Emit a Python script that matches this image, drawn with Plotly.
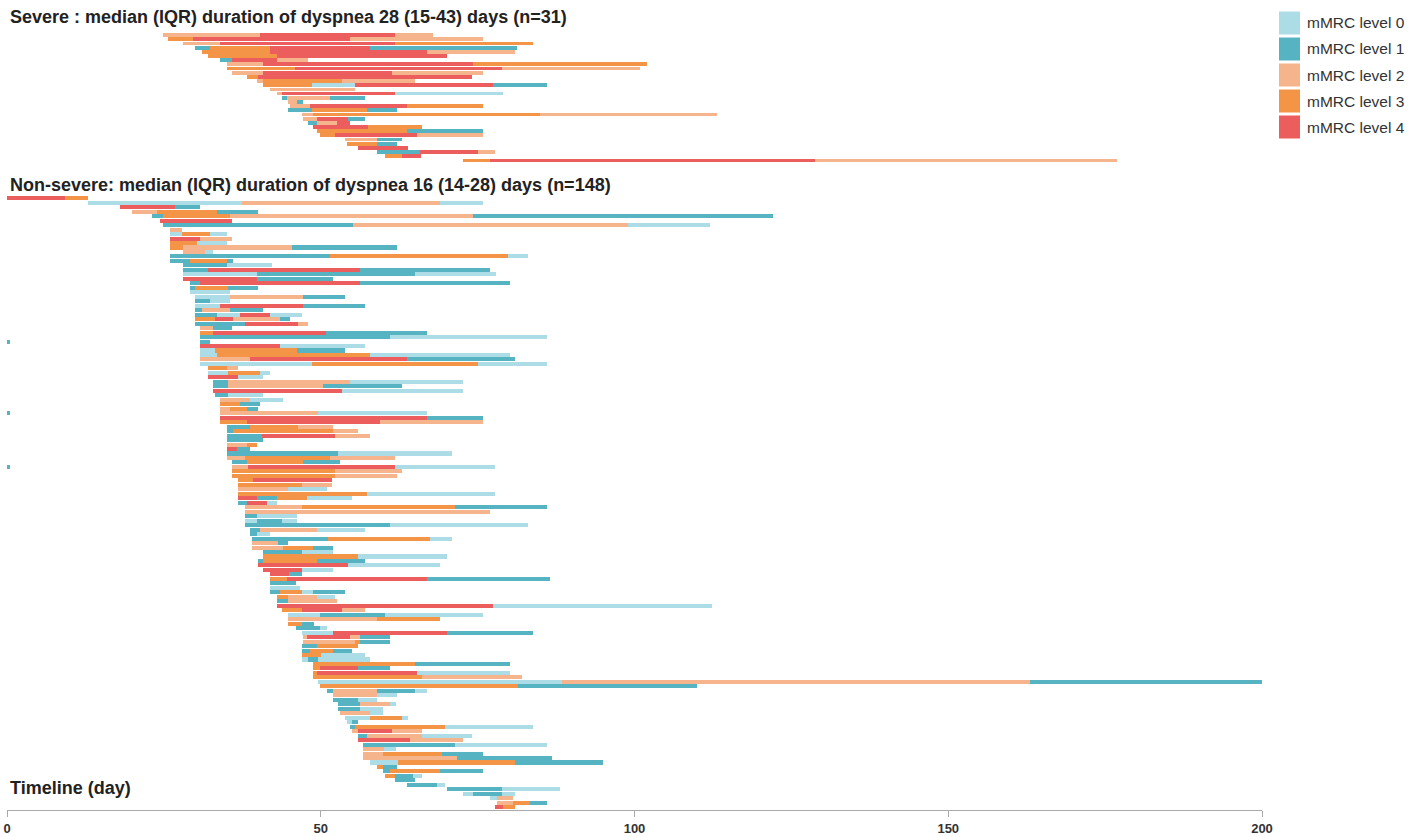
import plotly.graph_objects as go

# ---------------- data ----------------
level_names = ["mMRC level 0", "mMRC level 1", "mMRC level 2", "mMRC level 3", "mMRC level 4"]
level_colors = ["#acdde7", "#56b3c2", "#f5b48c", "#f49447", "#ec5d5e"]

title_severe = "Severe : median (IQR) duration of dyspnea 28 (15-43) days (n=31)"
title_nonsevere = "Non-severe: median (IQR) duration of dyspnea 16 (14-28) days (n=148)"
x_title = "Timeline (day)"
x_ticks = [0, 50, 100, 150, 200]

# each patient: start day, then list of (mMRC level, end day)
severe_start = [24.9, 25.7, 28.0, 30.0, 31.1, 32.0, 33.9, 35.1, 35.1, 35.9,
                38.2, 39.8, 40.8, 41.9, 43.0, 43.8, 44.8, 45.1, 44.8, 47.0,
                47.2, 48.0, 48.8, 49.4, 49.9, 53.9, 54.2, 55.9, 59.0, 60.2, 72.7]
severe_segments = [
    [(2, 40.3), (4, 61.8), (2, 67.9)],
    [(3, 29.6), (4, 54.7), (2, 75.9)],
    [(2, 33.9), (4, 61.8), (3, 83.8)],
    [(1, 32.4), (3, 41.9), (4, 57.8), (1, 81.3)],
    [(3, 41.9), (4, 67.0), (2, 81.0)],
    [(3, 43.0), (4, 70.1)],
    [(1, 35.9), (4, 43.0), (2, 48.0)],
    [(2, 40.8), (4, 74.3), (3, 102.0)],
    [(3, 45.9), (4, 78.9), (2, 100.9)],
    [(2, 40.8), (4, 61.4), (2, 75.9)],
    [(3, 40.0), (4, 74.1)],
    [(2, 40.8), (3, 53.4), (2, 65.0)],
    [(3, 48.6), (0, 55.5), (4, 77.4), (1, 86.1)],
    [(2, 55.5)],
    [(2, 43.8), (4, 61.8), (0, 79.0)],
    [(1, 44.6), (2, 51.5), (1, 57.1)],
    [(2, 46.2), (1, 47.2)],
    [(2, 48.3), (4, 63.7), (3, 75.9)],
    [(1, 48.6), (3, 57.4), (1, 62.2)],
    [(2, 48.8), (3, 84.9), (2, 113.1)],
    [(2, 49.4), (4, 54.3), (1, 57.1)],
    [(1, 49.4), (2, 52.6), (4, 54.7)],
    [(4, 57.5), (3, 66.1)],
    [(3, 63.7), (1, 75.9)],
    [(3, 52.3), (4, 65.3), (2, 75.9)],
    [(2, 59.0), (1, 62.9)],
    [(3, 59.0), (1, 62.2)],
    [(4, 63.9)],
    [(1, 65.8), (4, 75.1), (2, 77.8)],
    [(3, 63.0), (4, 66.0)],
    [(3, 77.0), (4, 128.8), (2, 176.9)],
]

nonsevere_start = [
    0.0, 12.9, 18.0, 19.9, 23.1, 24.4, 24.9, 26.0, 26.0, 26.0,
    26.0, 26.0, 28.0, 26.0, 26.0, 28.0, 28.0, 28.0, 28.0, 29.2,
    29.2, 29.2, 30.0, 30.0, 30.0, 30.0, 30.0, 30.0, 30.0, 30.8,
    30.8, 30.8, 30.8, 30.8, 30.8, 30.8, 30.8, 30.8, 32.0, 32.0,
    32.0, 32.8, 32.8, 32.8, 33.1, 33.9, 33.9, 33.9, 33.9, 33.9,
    33.9, 35.1, 35.1, 35.1, 35.1, 35.1, 35.1, 35.1, 35.1, 35.9,
    35.9, 35.9, 35.9, 36.8, 36.8, 36.8, 36.8, 36.8, 36.8, 37.9,
    37.9, 37.9, 37.9, 37.9, 38.7, 38.7, 39.0, 39.0, 39.0, 40.8,
    40.8, 40.0, 40.0, 40.8, 41.9, 41.9, 41.9, 41.9, 41.9, 43.0,
    43.0, 43.0, 43.8, 44.8, 44.8, 44.8, 46.1, 47.0, 47.2, 47.2,
    47.0, 47.0, 47.0, 47.0, 48.8, 48.8, 48.8, 48.8, 49.6, 49.9,
    51.0, 52.0, 52.0, 52.7, 52.7, 53.1, 53.9, 54.2, 54.7, 55.0,
    55.9, 55.9, 56.7, 56.7, 56.7, 56.7, 57.8, 59.0, 59.9, 60.2,
    61.8, 63.7, 70.1, 72.7, 77.0, 78.1, 77.8]
nonsevere_segments = [
    [(4, 9.2), (3, 12.9)],
    [(0, 37.5), (2, 69.0), (0, 75.9)],
    [(4, 26.8), (1, 30.8)],
    [(2, 23.9), (3, 33.5), (1, 40.0)],
    [(1, 24.9), (3, 35.5), (2, 74.3), (1, 122.1)],
    [(4, 35.9)],
    [(1, 55.1), (2, 99.0), (0, 112.0)],
    [(2, 27.9)],
    [(0, 27.9), (3, 32.4), (0, 35.1)],
    [(4, 30.8), (2, 35.9)],
    [(3, 30.3), (0, 35.1)],
    [(3, 28.0), (2, 45.4), (1, 62.2)],
    [(2, 31.6), (0, 32.8)],
    [(1, 51.5), (3, 79.8), (0, 83.0)],
    [(1, 29.2), (3, 35.1), (1, 36.0)],
    [(1, 35.1), (0, 42.2)],
    [(1, 32.0), (4, 56.3), (1, 77.0)],
    [(0, 39.8), (1, 65.0), (0, 77.9)],
    [(4, 39.8), (1, 52.0)],
    [(1, 30.8), (4, 56.3), (1, 80.2)],
    [(1, 30.0), (3, 35.2), (1, 40.0)],
    [(0, 35.5)],
    [(0, 35.5), (2, 47.2), (1, 53.9)],
    [(1, 32.4), (0, 35.5)],
    [(0, 33.9), (4, 47.2), (1, 57.1)],
    [(1, 31.1), (2, 35.5), (1, 40.8)],
    [(1, 33.5), (0, 37.1), (4, 41.9), (0, 47.0)],
    [(3, 33.1), (4, 36.0), (2, 43.5), (1, 45.1)],
    [(1, 37.9), (4, 46.4), (2, 48.0)],
    [(2, 32.8), (1, 35.9)],
    [(3, 32.8), (4, 50.9), (1, 66.9)],
    [(1, 61.0), (0, 86.1)],
    [(1, 32.4)],
    [(4, 43.5), (0, 57.1)],
    [(0, 33.1), (3, 46.2), (1, 53.9)],
    [(0, 33.5), (3, 57.8), (0, 80.2)],
    [(2, 38.7), (4, 63.7), (1, 81.0)],
    [(0, 48.6), (3, 75.1), (0, 86.1)],
    [(3, 35.1), (2, 36.8)],
    [(0, 35.2), (3, 40.3), (0, 41.9)],
    [(4, 36.8), (0, 40.8)],
    [(1, 35.2), (2, 54.7), (0, 72.7)],
    [(1, 35.2), (2, 50.4), (1, 62.9)],
    [(4, 53.4), (0, 72.7)],
    [(1, 35.2), (0, 40.8)],
    [(2, 38.7), (0, 44.0)],
    [(3, 37.1), (1, 40.3)],
    [(2, 35.5), (3, 38.2), (1, 40.0)],
    [(2, 49.6), (0, 66.9)],
    [(4, 66.9), (1, 75.9)],
    [(3, 38.2), (4, 59.4), (2, 75.9)],
    [(1, 38.7), (3, 46.4), (2, 52.0)],
    [(1, 36.0), (3, 52.0), (2, 55.9)],
    [(1, 40.6), (4, 52.3), (2, 57.8)],
    [(1, 40.8)],
    [(2, 38.2), (3, 39.8)],
    [(4, 36.7), (1, 38.7)],
    [(1, 52.7), (0, 70.9)],
    [(2, 37.9), (3, 51.5), (2, 61.8)],
    [(1, 38.2), (3, 47.2), (1, 53.1)],
    [(2, 38.4), (4, 61.8), (0, 77.8)],
    [(3, 52.3), (2, 62.9)],
    [(3, 52.3), (2, 62.2)],
    [(3, 39.2), (4, 51.8)],
    [(3, 47.0), (2, 51.8)],
    [(2, 44.8), (0, 51.0)],
    [(3, 57.4), (0, 77.8)],
    [(4, 39.8), (1, 43.0), (3, 47.8), (0, 55.0)],
    [(1, 38.2), (4, 41.4), (0, 43.0)],
    [(2, 47.0), (3, 71.4), (1, 86.1)],
    [(2, 77.0)],
    [(1, 39.8), (0, 46.2)],
    [(0, 39.8), (1, 43.8), (0, 46.2)],
    [(1, 61.0), (0, 83.0)],
    [(1, 40.3), (2, 49.4), (0, 57.1)],
    [(1, 39.8), (0, 41.9)],
    [(1, 51.2), (3, 67.4), (0, 70.9)],
    [(2, 43.2), (1, 44.8)],
    [(2, 44.0), (3, 48.8), (1, 52.0)],
    [(1, 47.0), (0, 52.0)],
    [(3, 55.9), (0, 70.1)],
    [(1, 40.8), (3, 49.4), (1, 57.1)],
    [(4, 54.3), (0, 69.0)],
    [(4, 47.0), (0, 52.0)],
    [(4, 45.0), (1, 47.0)],
    [(3, 44.6), (4, 66.9), (1, 86.5)],
    [(1, 46.1)],
    [(0, 46.7)],
    [(1, 43.5), (3, 47.0), (0, 48.8), (1, 53.9)],
    [(3, 44.8), (2, 49.4), (0, 52.3)],
    [(1, 44.8), (2, 52.6)],
    [(4, 77.4), (0, 112.3)],
    [(3, 47.0), (4, 53.4), (2, 57.1)],
    [(0, 49.9), (1, 60.2), (0, 75.9)],
    [(2, 59.0), (3, 69.0)],
    [(3, 47.0), (1, 49.0)],
    [(1, 49.9), (0, 51.0)],
    [(0, 52.0), (4, 70.1), (1, 83.8)],
    [(2, 47.8), (4, 54.7), (2, 56.3), (1, 61.0)],
    [(2, 55.5), (3, 56.3), (1, 61.0)],
    [(1, 49.4), (3, 55.9)],
    [(1, 48.3), (3, 52.0), (1, 55.0)],
    [(3, 50.0), (0, 57.1)],
    [(0, 48.0), (1, 49.6), (0, 57.8)],
    [(3, 65.0), (1, 80.2)],
    [(3, 49.9), (4, 55.9), (1, 61.0)],
    [(3, 49.4), (4, 65.3), (0, 80.2)],
    [(3, 66.1), (2, 82.1)],
    [(0, 88.4), (2, 163.0), (1, 200.0)],
    [(3, 81.4), (1, 110.0)],
    [(1, 52.0), (2, 59.0), (1, 65.0), (0, 66.9)],
    [(2, 59.0), (0, 62.2)],
    [(1, 55.9), (0, 59.0)],
    [(1, 56.3), (2, 61.0), (0, 62.0)],
    [(1, 56.3), (0, 59.9)],
    [(2, 57.8), (0, 59.9)],
    [(0, 57.8), (3, 62.9), (0, 63.9)],
    [(0, 55.0), (1, 55.9)],
    [(1, 55.5), (3, 69.8), (0, 83.8)],
    [(2, 56.0), (4, 61.4), (2, 66.1)],
    [(1, 57.4), (2, 66.1), (0, 74.1)],
    [(4, 64.2), (2, 72.7)],
    [(1, 71.4), (0, 86.1)],
    [(2, 60.0), (0, 62.0)],
    [(2, 59.9), (3, 69.3), (1, 75.9)],
    [(2, 71.7), (1, 86.9)],
    [(0, 62.3), (3, 81.0), (1, 95.0)],
    [(3, 59.9), (1, 62.2)],
    [(1, 61.0), (3, 69.0), (1, 75.9)],
    [(3, 61.8), (1, 64.7), (0, 66.1)],
    [(1, 65.0)],
    [(1, 68.5), (0, 69.8)],
    [(1, 78.9), (0, 88.1)],
    [(0, 74.3), (1, 78.9), (0, 81.0)],
    [(0, 78.1), (2, 80.6)],
    [(2, 80.6), (3, 83.3), (1, 86.1)],
    [(4, 79.0), (3, 81.0)],
]
# isolated short records at day 0 (row index, level, end day)
nonsevere_day0_marks = [(32, 1, 0.5), (48, 1, 0.5), (60, 1, 0.5)]

# ---------------- build bars ----------------
def collect(starts, segments, extra=()):
    out = {lv: {"y": [], "base": [], "x": []} for lv in range(5)}
    for i, (s, segs) in enumerate(zip(starts, segments)):
        prev = s
        for lv, end in segs:
            out[lv]["y"].append(i)
            out[lv]["base"].append(prev)
            out[lv]["x"].append(end - prev)
            prev = end
    for i, lv, end in extra:
        out[lv]["y"].append(i)
        out[lv]["base"].append(0)
        out[lv]["x"].append(end)
    return out

sev = collect(severe_start, severe_segments)
non = collect(nonsevere_start, nonsevere_segments, nonsevere_day0_marks)

fig = go.Figure()
for lv in range(5):
    for grp, yax in ((sev, "y"), (non, "y2")):
        fig.add_trace(go.Bar(
            orientation="h", y=grp[lv]["y"], x=grp[lv]["x"], base=grp[lv]["base"],
            marker=dict(color=level_colors[lv], line=dict(width=0)),
            width=0.9, name=level_names[lv], showlegend=False,
            xaxis="x", yaxis=yax, hoverinfo="skip"))

W, H = 1424, 837
ml, mr, mt, mb = 7, 0, 10, 27
pw = W - ml - mr
ph = H - mt - mb
axis_px = H - mb

def py(pix):
    return (axis_px - pix) / ph

def px(pix):
    return (pix - ml) / pw

n_sev = len(severe_start)
n_non = len(nonsevere_start)

font_family = "Liberation Sans, Arial, Helvetica, sans-serif"

fig.update_layout(
    width=W, height=H, margin=dict(l=ml, r=mr, t=mt, b=mb, autoexpand=False),
    paper_bgcolor="white", plot_bgcolor="white",
    barmode="overlay", bargap=0, showlegend=False,
    font=dict(family=font_family, color="#333333"),
    xaxis=dict(range=[0, 200], domain=[0, px(1262)], tickvals=x_ticks,
               ticks="outside", ticklen=6,
               tickcolor="#aaaaaa", showline=True, linecolor="#aaaaaa", linewidth=1,
               showgrid=False, zeroline=False, anchor="free", position=0,
               automargin=False,
               tickfont=dict(size=13, color="#333333", weight="bold")),
    yaxis=dict(range=[n_sev - 0.5, -0.5], domain=[py(162.3), py(32.8)],
               visible=False, showgrid=False, zeroline=False, automargin=False),
    yaxis2=dict(range=[n_non - 0.5, -0.5], domain=[py(809.0), py(195.5)],
                visible=False, showgrid=False, zeroline=False, automargin=False),
)

annots = [
    dict(text=title_severe, y=py(17)),
    dict(text=title_nonsevere, y=py(185)),
    dict(text=x_title, y=py(788)),
]
for a in annots:
    fig.add_annotation(text="<b>" + a["text"] + "</b>", xref="paper", yref="paper",
                       x=0, y=a["y"], xanchor="left", yanchor="middle", xshift=1,
                       showarrow=False, font=dict(size=18, color="#222222"))

# legend (drawn manually to match the large colour swatches)
for i, (nm, col) in enumerate(zip(level_names, level_colors)):
    cy = 23 + 26 * i
    fig.add_shape(type="rect", xref="paper", yref="paper",
                  x0=px(1279), x1=px(1300), y0=py(cy + 11.5), y1=py(cy - 11.5),
                  fillcolor=col, line=dict(width=0))
    fig.add_annotation(text=nm, xref="paper", yref="paper", x=px(1305), y=py(cy),
                       xanchor="left", yanchor="middle", showarrow=False,
                       font=dict(size=15.5, color="#333333"))

fig.write_html("out.html", config={"displayModeBar": False},
               post_script="document.body.style.margin='0px';document.body.style.overflow='hidden';")
